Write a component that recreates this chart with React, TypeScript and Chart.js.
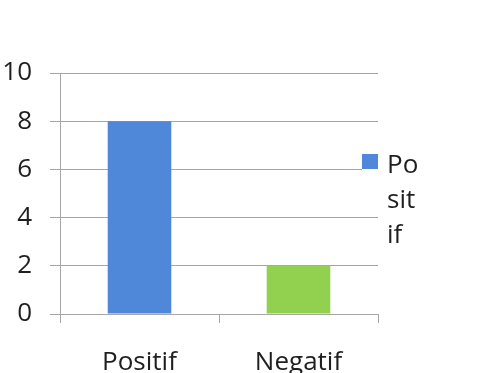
import React, { useEffect, useRef } from "react";
import { Chart, registerables } from "chart.js";

Chart.register(...registerables);

const categories = ["Positif", "Negatif"];
const seriesName = "Positif";
const values = [8, 2];
const barColors = ["#4f88d8", "#92d050"];
const legendLines = ["Po", "sit", "if"];
const yMin = 0;
const yMax = 10;
const yStep = 2;

const FONT = "'Open Sans', 'DejaVu Sans', sans-serif";
const GRID = "#a6a6a6";
const TEXT = "#1f1f1f";

const legendPlugin = {
  id: "wrappedLegend",
  afterDraw(chart: any) {
    const { ctx, chartArea } = chart;
    const right = chartArea.right;
    const top = chartArea.top;
    ctx.save();
    ctx.fillStyle = "#ffffff";
    ctx.fillRect(right - 16, top + 80, 17, 20);
    ctx.fillStyle = barColors[0];
    ctx.fillRect(right - 16, top + 81, 16, 15);
    ctx.fillStyle = TEXT;
    ctx.font = `26px ${FONT}`;
    ctx.textAlign = "left";
    ctx.textBaseline = "alphabetic";
    legendLines.forEach((line, i) => {
      ctx.fillText(line, right + 9, top + 100 + i * 35);
    });
    ctx.restore();
  },
};

export default function App() {
  const ref = useRef<HTMLCanvasElement | null>(null);
  useEffect(() => {
    if (!ref.current) return;
    const chart = new Chart(ref.current, {
      type: "bar",
      data: {
        labels: categories,
        datasets: [
          {
            label: seriesName,
            data: values,
            backgroundColor: barColors,
            borderWidth: 0,
            categoryPercentage: 1,
            barPercentage: 0.4,
          },
        ],
      },
      plugins: [legendPlugin],
      options: {
        responsive: false,
        animation: false,
        devicePixelRatio: 1,
        layout: { padding: { top: 73, right: 111, left: 0, bottom: 0 } },
        plugins: {
          legend: { display: false },
          tooltip: { enabled: false },
        },
        scales: {
          x: {
            offset: true,
            grid: {
              offset: true,
              drawOnChartArea: false,
              drawTicks: true,
              tickLength: 9,
              color: GRID,
            },
            border: { display: true, color: GRID, width: 1 },
            ticks: {
              color: TEXT,
              font: { family: FONT, size: 26 },
              padding: 24,
              maxRotation: 0,
            },
            afterFit: (s: any) => {
              s.height = 59;
            },
          },
          y: {
            min: yMin,
            max: yMax,
            grid: { color: GRID, tickLength: 10, drawTicks: true },
            border: { display: true, color: GRID, width: 1 },
            ticks: {
              stepSize: yStep,
              color: TEXT,
              font: { family: FONT, size: 26 },
              padding: 18,
            },
            afterFit: (s: any) => {
              s.width = 60;
            },
          },
        },
      },
    });
    return () => chart.destroy();
  }, []);
  return (
    <div style={{ position: "absolute", left: 0, top: 0, width: 489, height: 373, background: "#fff" }}>
      <canvas ref={ref} width={489} height={373} style={{ display: "block" }} />
    </div>
  );
}
